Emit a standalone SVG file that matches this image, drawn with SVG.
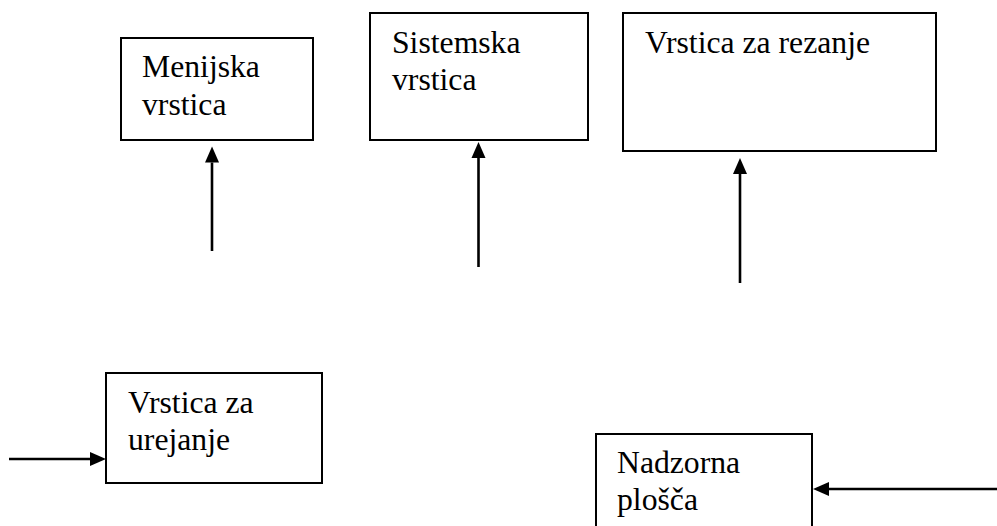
<svg xmlns="http://www.w3.org/2000/svg" width="997" height="526" viewBox="0 0 997 526">
<style>
.box{fill:#fff;stroke:#000;stroke-width:2}
.lbl{font-family:'Liberation Serif','Tinos','Times New Roman','Noto Serif','DejaVu Serif',serif;font-size:31.7px;fill:#000}
.conn{stroke:#000;stroke-width:2.6;fill:none;marker-end:url(#ah)}
</style>
<defs>
<marker id="ah" markerUnits="userSpaceOnUse" markerWidth="17" markerHeight="15" refX="0" refY="7" orient="auto" overflow="visible">
<path d="M0,0 L16,7 L0,14 Z" fill="#000"/>
</marker>
</defs>
<rect width="997" height="526" fill="#fff"/>
<g id="menijska">
<rect class="box" x="121" y="38" width="192" height="102"/>
<text class="lbl" x="142" y="76.5" font-family="Liberation Serif, serif">Menijska</text>
<text class="lbl" x="142" y="114.5" font-family="Liberation Serif, serif">vrstica</text>
</g>
<g id="sistemska">
<rect class="box" x="370" y="13" width="218" height="127"/>
<text class="lbl" x="392" y="53">Sistemska</text>
<text class="lbl" x="392" y="90">vrstica</text>
</g>
<g id="rezanje">
<rect class="box" x="623" y="13" width="313" height="138"/>
<text class="lbl" x="645" y="53">Vrstica za rezanje</text>
</g>
<g id="urejanje">
<rect class="box" x="106" y="373" width="216" height="110"/>
<text class="lbl" x="128" y="413">Vrstica za</text>
<text class="lbl" x="128" y="450">urejanje</text>
</g>
<g id="nadzorna">
<rect class="box" x="596" y="434" width="216" height="100"/>
<text class="lbl" x="617" y="473">Nadzorna</text>
<text class="lbl" x="617" y="510">plošča</text>
</g>
<g id="connectors">
<line class="conn" x1="212" y1="251" x2="212" y2="162.5"/>
<line class="conn" x1="478.5" y1="267" x2="478.5" y2="158"/>
<line class="conn" x1="740" y1="283" x2="740" y2="174"/>
<line class="conn" x1="9" y1="459" x2="90" y2="459"/>
<line class="conn" x1="997" y1="489" x2="829" y2="489"/>
</g>
</svg>
